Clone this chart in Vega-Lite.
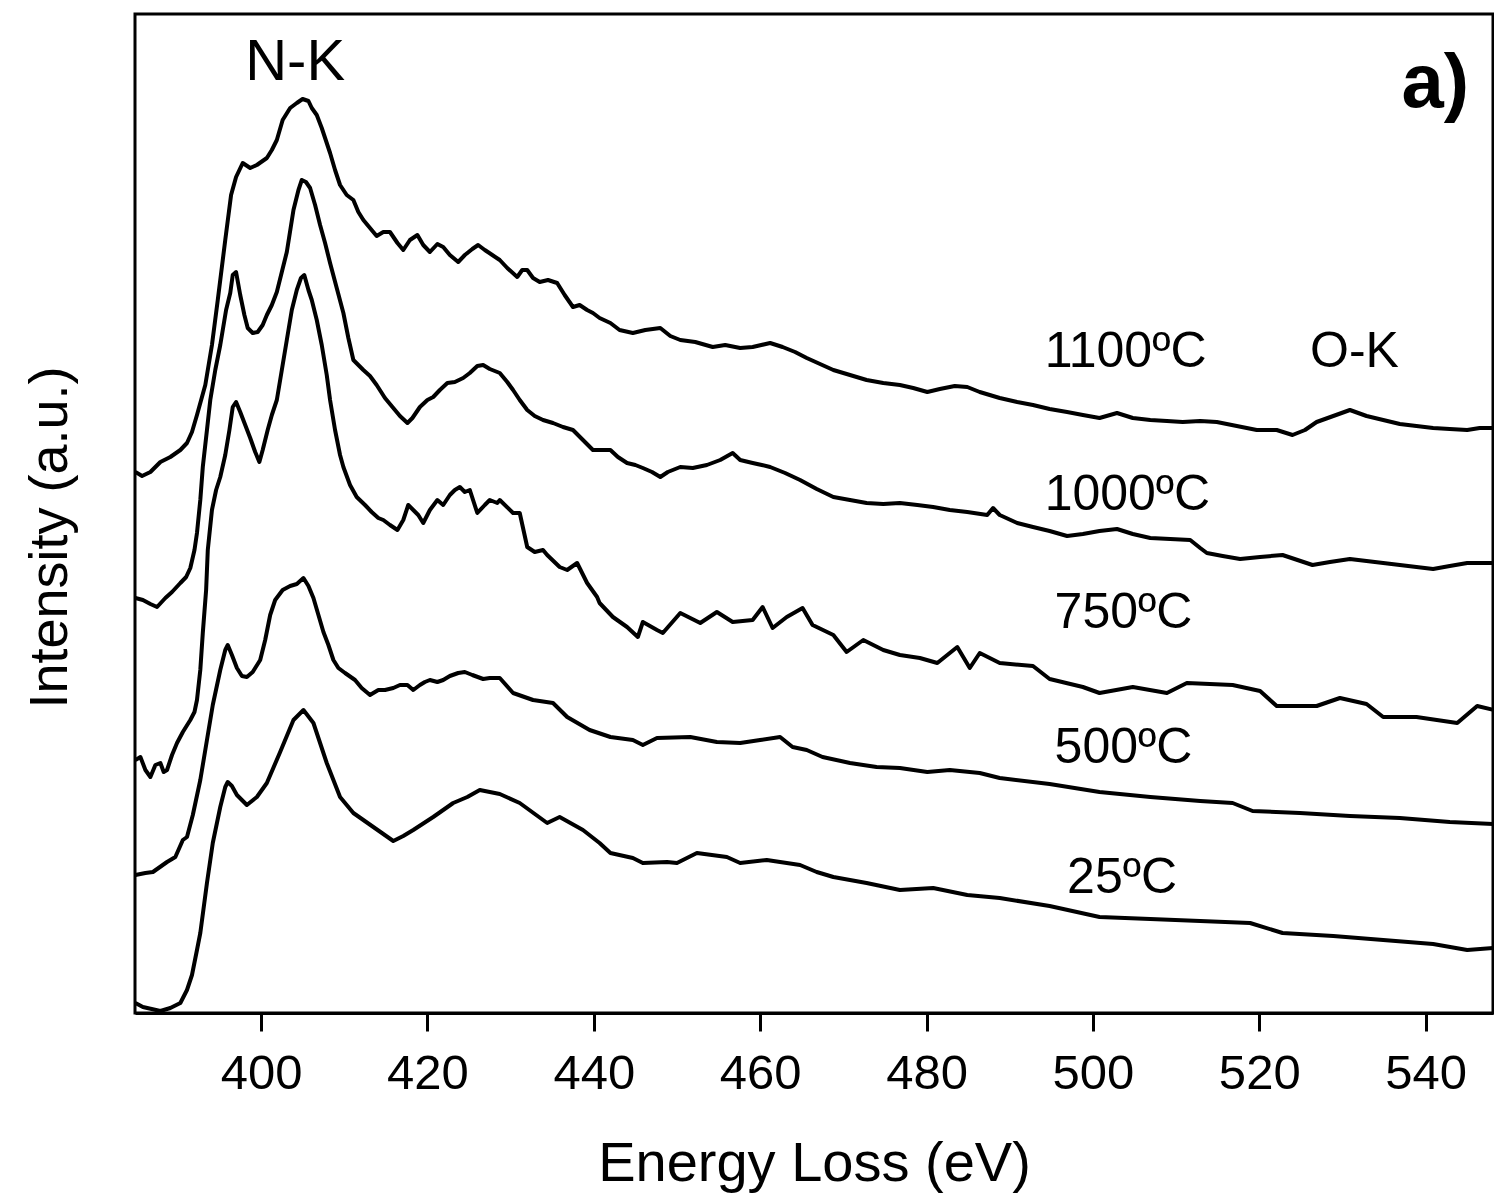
{
  "$schema": "https://vega.github.io/schema/vega-lite/v6.json",
  "width": 1358,
  "height": 999,
  "autosize": {"type": "none"},
  "padding": {"left": 135, "top": 14, "right": 1, "bottom": 181},
  "background": "white",
  "config": {
    "font": "Liberation Sans",
    "view": {"stroke": "black", "strokeWidth": 3}
  },
  "datasets": {
    "spectra": [
      {"s":"1100","E":384.9,"I":541},{"s":"1100","E":385.7,"I":537},{"s":"1100","E":386.7,"I":541},{"s":"1100","E":387.9,"I":551},{"s":"1100","E":389.1,"I":556},{"s":"1100","E":390.3,"I":563},{"s":"1100","E":391.1,"I":570},{"s":"1100","E":391.7,"I":581},{"s":"1100","E":392.3,"I":598},{"s":"1100","E":393.3,"I":628},{"s":"1100","E":394.1,"I":668},{"s":"1100","E":394.8,"I":713},{"s":"1100","E":395.7,"I":773},{"s":"1100","E":396.4,"I":818},{"s":"1100","E":397.0,"I":836},{"s":"1100","E":397.8,"I":850},{"s":"1100","E":398.7,"I":845},{"s":"1100","E":399.5,"I":848},{"s":"1100","E":400.7,"I":855},{"s":"1100","E":401.3,"I":863},{"s":"1100","E":401.9,"I":873},{"s":"1100","E":402.6,"I":893},{"s":"1100","E":403.5,"I":905},{"s":"1100","E":404.3,"I":910},{"s":"1100","E":405.0,"I":914},{"s":"1100","E":405.7,"I":912},{"s":"1100","E":406.1,"I":905},{"s":"1100","E":406.7,"I":898},{"s":"1100","E":407.3,"I":885},{"s":"1100","E":408.3,"I":860},{"s":"1100","E":408.9,"I":843},{"s":"1100","E":409.5,"I":828},{"s":"1100","E":410.3,"I":818},{"s":"1100","E":411.1,"I":813},{"s":"1100","E":411.7,"I":801},{"s":"1100","E":412.3,"I":793},{"s":"1100","E":413.1,"I":785},{"s":"1100","E":413.9,"I":777},{"s":"1100","E":414.7,"I":781},{"s":"1100","E":415.5,"I":781},{"s":"1100","E":416.4,"I":770},{"s":"1100","E":417.1,"I":763},{"s":"1100","E":417.9,"I":773},{"s":"1100","E":418.8,"I":778},{"s":"1100","E":419.5,"I":768},{"s":"1100","E":420.3,"I":761},{"s":"1100","E":421.2,"I":769},{"s":"1100","E":421.9,"I":766},{"s":"1100","E":422.7,"I":758},{"s":"1100","E":423.7,"I":751},{"s":"1100","E":424.5,"I":758},{"s":"1100","E":425.4,"I":764},{"s":"1100","E":426.1,"I":768},{"s":"1100","E":426.9,"I":763},{"s":"1100","E":427.8,"I":758},{"s":"1100","E":428.7,"I":753},{"s":"1100","E":429.6,"I":745},{"s":"1100","E":430.8,"I":736},{"s":"1100","E":431.4,"I":743},{"s":"1100","E":432.0,"I":743},{"s":"1100","E":432.7,"I":735},{"s":"1100","E":433.5,"I":731},{"s":"1100","E":434.5,"I":733},{"s":"1100","E":435.6,"I":730},{"s":"1100","E":436.5,"I":718},{"s":"1100","E":437.5,"I":706},{"s":"1100","E":438.3,"I":708},{"s":"1100","E":439.2,"I":703},{"s":"1100","E":439.9,"I":700},{"s":"1100","E":440.7,"I":695},{"s":"1100","E":442.0,"I":690},{"s":"1100","E":443.1,"I":683},{"s":"1100","E":444.7,"I":680},{"s":"1100","E":446.2,"I":683},{"s":"1100","E":448.0,"I":685},{"s":"1100","E":449.2,"I":677},{"s":"1100","E":450.4,"I":673},{"s":"1100","E":452.2,"I":671},{"s":"1100","E":454.3,"I":666},{"s":"1100","E":455.8,"I":668},{"s":"1100","E":457.6,"I":665},{"s":"1100","E":459.1,"I":666},{"s":"1100","E":461.2,"I":670},{"s":"1100","E":462.7,"I":666},{"s":"1100","E":464.2,"I":661},{"s":"1100","E":465.6,"I":655},{"s":"1100","E":467.2,"I":649},{"s":"1100","E":468.8,"I":643},{"s":"1100","E":470.8,"I":638},{"s":"1100","E":472.8,"I":633},{"s":"1100","E":474.8,"I":630},{"s":"1100","E":476.8,"I":628},{"s":"1100","E":478.4,"I":625},{"s":"1100","E":480.1,"I":621},{"s":"1100","E":481.6,"I":624},{"s":"1100","E":483.4,"I":627},{"s":"1100","E":484.9,"I":626},{"s":"1100","E":486.4,"I":621},{"s":"1100","E":488.8,"I":615},{"s":"1100","E":490.9,"I":611},{"s":"1100","E":492.8,"I":608},{"s":"1100","E":494.8,"I":604},{"s":"1100","E":496.9,"I":601},{"s":"1100","E":498.8,"I":598},{"s":"1100","E":500.8,"I":595},{"s":"1100","E":502.9,"I":600},{"s":"1100","E":504.8,"I":595},{"s":"1100","E":506.9,"I":593},{"s":"1100","E":508.9,"I":592},{"s":"1100","E":510.8,"I":591},{"s":"1100","E":512.9,"I":592},{"s":"1100","E":514.9,"I":591},{"s":"1100","E":517.3,"I":587},{"s":"1100","E":519.7,"I":583},{"s":"1100","E":522.1,"I":583},{"s":"1100","E":524.0,"I":578},{"s":"1100","E":525.5,"I":583},{"s":"1100","E":526.9,"I":591},{"s":"1100","E":528.9,"I":597},{"s":"1100","E":530.9,"I":603},{"s":"1100","E":532.9,"I":597},{"s":"1100","E":534.9,"I":593},{"s":"1100","E":536.9,"I":589},{"s":"1100","E":538.9,"I":587},{"s":"1100","E":540.9,"I":585},{"s":"1100","E":542.9,"I":584},{"s":"1100","E":545.0,"I":583},{"s":"1100","E":546.5,"I":585},{"s":"1100","E":548.2,"I":585},

      {"s":"1000","E":384.9,"I":415},{"s":"1000","E":385.8,"I":413},{"s":"1000","E":386.7,"I":409},{"s":"1000","E":387.5,"I":406},{"s":"1000","E":388.5,"I":415},{"s":"1000","E":389.3,"I":421},{"s":"1000","E":390.3,"I":430},{"s":"1000","E":391.0,"I":436},{"s":"1000","E":391.5,"I":445},{"s":"1000","E":392.0,"I":463},{"s":"1000","E":392.3,"I":480},{"s":"1000","E":392.7,"I":513},{"s":"1000","E":393.0,"I":546},{"s":"1000","E":393.5,"I":583},{"s":"1000","E":393.9,"I":613},{"s":"1000","E":394.5,"I":643},{"s":"1000","E":395.1,"I":668},{"s":"1000","E":395.8,"I":703},{"s":"1000","E":396.3,"I":720},{"s":"1000","E":396.6,"I":738},{"s":"1000","E":397.0,"I":741},{"s":"1000","E":397.5,"I":718},{"s":"1000","E":398.0,"I":698},{"s":"1000","E":398.4,"I":685},{"s":"1000","E":399.0,"I":680},{"s":"1000","E":399.6,"I":681},{"s":"1000","E":400.2,"I":688},{"s":"1000","E":400.7,"I":698},{"s":"1000","E":401.3,"I":708},{"s":"1000","E":401.9,"I":721},{"s":"1000","E":402.5,"I":741},{"s":"1000","E":403.1,"I":761},{"s":"1000","E":403.9,"I":803},{"s":"1000","E":404.5,"I":823},{"s":"1000","E":404.9,"I":833},{"s":"1000","E":405.4,"I":831},{"s":"1000","E":405.9,"I":825},{"s":"1000","E":406.5,"I":808},{"s":"1000","E":407.1,"I":788},{"s":"1000","E":407.7,"I":770},{"s":"1000","E":408.3,"I":750},{"s":"1000","E":409.1,"I":725},{"s":"1000","E":409.9,"I":700},{"s":"1000","E":410.5,"I":675},{"s":"1000","E":411.1,"I":653},{"s":"1000","E":411.7,"I":648},{"s":"1000","E":412.3,"I":643},{"s":"1000","E":413.1,"I":637},{"s":"1000","E":413.9,"I":628},{"s":"1000","E":414.9,"I":615},{"s":"1000","E":415.9,"I":605},{"s":"1000","E":416.7,"I":597},{"s":"1000","E":417.6,"I":590},{"s":"1000","E":418.2,"I":595},{"s":"1000","E":419.1,"I":606},{"s":"1000","E":420.0,"I":613},{"s":"1000","E":420.7,"I":616},{"s":"1000","E":421.5,"I":623},{"s":"1000","E":422.4,"I":630},{"s":"1000","E":423.3,"I":631},{"s":"1000","E":424.3,"I":635},{"s":"1000","E":425.1,"I":640},{"s":"1000","E":426.0,"I":647},{"s":"1000","E":426.7,"I":648},{"s":"1000","E":427.5,"I":644},{"s":"1000","E":428.7,"I":640},{"s":"1000","E":429.6,"I":631},{"s":"1000","E":430.3,"I":623},{"s":"1000","E":431.1,"I":613},{"s":"1000","E":432.0,"I":603},{"s":"1000","E":432.9,"I":597},{"s":"1000","E":433.9,"I":593},{"s":"1000","E":435.1,"I":590},{"s":"1000","E":436.3,"I":586},{"s":"1000","E":437.5,"I":583},{"s":"1000","E":438.7,"I":573},{"s":"1000","E":439.9,"I":563},{"s":"1000","E":440.7,"I":563},{"s":"1000","E":442.0,"I":563},{"s":"1000","E":442.9,"I":556},{"s":"1000","E":444.0,"I":550},{"s":"1000","E":445.0,"I":548},{"s":"1000","E":445.9,"I":545},{"s":"1000","E":447.0,"I":541},{"s":"1000","E":448.0,"I":536},{"s":"1000","E":448.9,"I":541},{"s":"1000","E":450.4,"I":546},{"s":"1000","E":451.9,"I":545},{"s":"1000","E":453.6,"I":548},{"s":"1000","E":455.2,"I":553},{"s":"1000","E":456.7,"I":560},{"s":"1000","E":457.6,"I":553},{"s":"1000","E":459.1,"I":550},{"s":"1000","E":460.2,"I":548},{"s":"1000","E":461.2,"I":546},{"s":"1000","E":463.0,"I":540},{"s":"1000","E":464.8,"I":533},{"s":"1000","E":466.8,"I":524},{"s":"1000","E":468.8,"I":516},{"s":"1000","E":470.8,"I":513},{"s":"1000","E":472.8,"I":510},{"s":"1000","E":474.8,"I":509},{"s":"1000","E":476.8,"I":510},{"s":"1000","E":478.9,"I":508},{"s":"1000","E":480.8,"I":506},{"s":"1000","E":482.8,"I":503},{"s":"1000","E":484.9,"I":501},{"s":"1000","E":487.3,"I":498},{"s":"1000","E":488.0,"I":505},{"s":"1000","E":488.8,"I":498},{"s":"1000","E":490.9,"I":490},{"s":"1000","E":492.8,"I":486},{"s":"1000","E":494.8,"I":482},{"s":"1000","E":496.9,"I":477},{"s":"1000","E":498.8,"I":479},{"s":"1000","E":500.8,"I":482},{"s":"1000","E":502.9,"I":484},{"s":"1000","E":504.8,"I":479},{"s":"1000","E":506.9,"I":475},{"s":"1000","E":509.3,"I":474},{"s":"1000","E":511.7,"I":473},{"s":"1000","E":512.9,"I":465},{"s":"1000","E":513.7,"I":460},{"s":"1000","E":515.6,"I":457},{"s":"1000","E":517.7,"I":454},{"s":"1000","E":520.1,"I":456},{"s":"1000","E":522.8,"I":458},{"s":"1000","E":524.6,"I":453},{"s":"1000","E":526.4,"I":448},{"s":"1000","E":528.5,"I":451},{"s":"1000","E":530.9,"I":454},{"s":"1000","E":532.9,"I":452},{"s":"1000","E":534.9,"I":450},{"s":"1000","E":536.9,"I":448},{"s":"1000","E":538.9,"I":446},{"s":"1000","E":540.9,"I":444},{"s":"1000","E":542.9,"I":447},{"s":"1000","E":545.0,"I":450},{"s":"1000","E":546.5,"I":450},{"s":"1000","E":548.2,"I":450},

      {"s":"750","E":384.9,"I":253},{"s":"750","E":385.5,"I":256},{"s":"750","E":386.1,"I":243},{"s":"750","E":386.7,"I":236},{"s":"750","E":387.3,"I":248},{"s":"750","E":387.9,"I":250},{"s":"750","E":388.3,"I":241},{"s":"750","E":388.7,"I":243},{"s":"750","E":389.3,"I":258},{"s":"750","E":389.9,"I":270},{"s":"750","E":390.6,"I":281},{"s":"750","E":391.5,"I":293},{"s":"750","E":392.0,"I":301},{"s":"750","E":392.3,"I":313},{"s":"750","E":392.7,"I":343},{"s":"750","E":393.0,"I":380},{"s":"750","E":393.4,"I":423},{"s":"750","E":393.6,"I":463},{"s":"750","E":394.1,"I":503},{"s":"750","E":394.6,"I":523},{"s":"750","E":395.1,"I":536},{"s":"750","E":395.7,"I":558},{"s":"750","E":396.2,"I":583},{"s":"750","E":396.6,"I":606},{"s":"750","E":397.0,"I":611},{"s":"750","E":397.5,"I":601},{"s":"750","E":398.1,"I":588},{"s":"750","E":398.7,"I":575},{"s":"750","E":399.3,"I":561},{"s":"750","E":399.8,"I":551},{"s":"750","E":400.2,"I":563},{"s":"750","E":400.8,"I":583},{"s":"750","E":401.3,"I":598},{"s":"750","E":401.9,"I":613},{"s":"750","E":402.5,"I":643},{"s":"750","E":403.1,"I":673},{"s":"750","E":403.7,"I":703},{"s":"750","E":404.3,"I":723},{"s":"750","E":404.8,"I":735},{"s":"750","E":405.2,"I":738},{"s":"750","E":405.7,"I":723},{"s":"750","E":406.1,"I":713},{"s":"750","E":406.7,"I":693},{"s":"750","E":407.3,"I":668},{"s":"750","E":407.9,"I":638},{"s":"750","E":408.3,"I":613},{"s":"750","E":408.9,"I":583},{"s":"750","E":409.5,"I":558},{"s":"750","E":409.9,"I":546},{"s":"750","E":410.7,"I":528},{"s":"750","E":411.5,"I":516},{"s":"750","E":412.5,"I":508},{"s":"750","E":413.3,"I":501},{"s":"750","E":414.1,"I":495},{"s":"750","E":414.7,"I":493},{"s":"750","E":415.5,"I":488},{"s":"750","E":416.4,"I":483},{"s":"750","E":417.1,"I":493},{"s":"750","E":417.7,"I":508},{"s":"750","E":418.3,"I":503},{"s":"750","E":418.9,"I":498},{"s":"750","E":419.5,"I":490},{"s":"750","E":420.3,"I":503},{"s":"750","E":421.2,"I":513},{"s":"750","E":421.9,"I":508},{"s":"750","E":422.7,"I":518},{"s":"750","E":423.3,"I":523},{"s":"750","E":423.9,"I":526},{"s":"750","E":424.5,"I":521},{"s":"750","E":425.1,"I":523},{"s":"750","E":426.0,"I":500},{"s":"750","E":426.9,"I":508},{"s":"750","E":427.5,"I":513},{"s":"750","E":428.4,"I":510},{"s":"750","E":428.7,"I":513},{"s":"750","E":430.3,"I":500},{"s":"750","E":431.1,"I":500},{"s":"750","E":432.0,"I":466},{"s":"750","E":432.9,"I":461},{"s":"750","E":433.9,"I":463},{"s":"750","E":434.4,"I":458},{"s":"750","E":435.9,"I":446},{"s":"750","E":436.8,"I":443},{"s":"750","E":438.0,"I":450},{"s":"750","E":439.2,"I":430},{"s":"750","E":440.4,"I":416},{"s":"750","E":440.7,"I":410},{"s":"750","E":442.3,"I":396},{"s":"750","E":444.0,"I":386},{"s":"750","E":445.3,"I":376},{"s":"750","E":445.9,"I":391},{"s":"750","E":447.6,"I":383},{"s":"750","E":448.3,"I":380},{"s":"750","E":450.4,"I":400},{"s":"750","E":452.8,"I":390},{"s":"750","E":454.8,"I":401},{"s":"750","E":456.7,"I":391},{"s":"750","E":459.1,"I":393},{"s":"750","E":460.3,"I":406},{"s":"750","E":461.5,"I":385},{"s":"750","E":463.2,"I":396},{"s":"750","E":465.1,"I":405},{"s":"750","E":466.3,"I":388},{"s":"750","E":468.8,"I":378},{"s":"750","E":470.4,"I":361},{"s":"750","E":472.4,"I":373},{"s":"750","E":474.8,"I":363},{"s":"750","E":476.8,"I":358},{"s":"750","E":479.2,"I":355},{"s":"750","E":481.3,"I":350},{"s":"750","E":483.7,"I":366},{"s":"750","E":485.2,"I":345},{"s":"750","E":486.4,"I":360},{"s":"750","E":488.8,"I":350},{"s":"750","E":492.8,"I":347},{"s":"750","E":494.8,"I":334},{"s":"750","E":498.8,"I":326},{"s":"750","E":500.8,"I":320},{"s":"750","E":504.8,"I":326},{"s":"750","E":508.9,"I":320},{"s":"750","E":511.3,"I":330},{"s":"750","E":516.8,"I":328},{"s":"750","E":520.1,"I":322},{"s":"750","E":522.1,"I":307},{"s":"750","E":526.9,"I":307},{"s":"750","E":529.7,"I":315},{"s":"750","E":532.9,"I":309},{"s":"750","E":534.9,"I":296},{"s":"750","E":538.9,"I":296},{"s":"750","E":543.8,"I":290},{"s":"750","E":546.2,"I":307},{"s":"750","E":548.2,"I":303},

      {"s":"500","E":384.9,"I":138},{"s":"500","E":386.1,"I":140},{"s":"500","E":387.0,"I":141},{"s":"500","E":388.7,"I":151},{"s":"500","E":389.7,"I":156},{"s":"500","E":390.6,"I":173},{"s":"500","E":391.1,"I":176},{"s":"500","E":391.8,"I":198},{"s":"500","E":392.7,"I":233},{"s":"500","E":393.5,"I":273},{"s":"500","E":394.2,"I":308},{"s":"500","E":395.1,"I":343},{"s":"500","E":395.7,"I":363},{"s":"500","E":396.0,"I":368},{"s":"500","E":396.5,"I":358},{"s":"500","E":397.1,"I":345},{"s":"500","E":397.7,"I":337},{"s":"500","E":398.3,"I":336},{"s":"500","E":399.0,"I":341},{"s":"500","E":399.9,"I":353},{"s":"500","E":400.5,"I":373},{"s":"500","E":401.1,"I":398},{"s":"500","E":401.7,"I":413},{"s":"500","E":402.6,"I":423},{"s":"500","E":403.5,"I":427},{"s":"500","E":404.3,"I":429},{"s":"500","E":405.1,"I":435},{"s":"500","E":405.7,"I":427},{"s":"500","E":406.3,"I":415},{"s":"500","E":406.9,"I":398},{"s":"500","E":407.5,"I":381},{"s":"500","E":408.1,"I":368},{"s":"500","E":408.7,"I":353},{"s":"500","E":409.3,"I":345},{"s":"500","E":410.1,"I":340},{"s":"500","E":411.3,"I":333},{"s":"500","E":412.1,"I":325},{"s":"500","E":413.1,"I":318},{"s":"500","E":414.1,"I":323},{"s":"500","E":414.9,"I":323},{"s":"500","E":415.9,"I":325},{"s":"500","E":416.7,"I":328},{"s":"500","E":417.6,"I":328},{"s":"500","E":418.3,"I":323},{"s":"500","E":419.1,"I":328},{"s":"500","E":419.7,"I":331},{"s":"500","E":420.3,"I":333},{"s":"500","E":421.2,"I":331},{"s":"500","E":421.9,"I":333},{"s":"500","E":422.7,"I":337},{"s":"500","E":423.7,"I":340},{"s":"500","E":424.5,"I":341},{"s":"500","E":425.4,"I":338},{"s":"500","E":426.7,"I":334},{"s":"500","E":427.5,"I":335},{"s":"500","E":428.7,"I":335},{"s":"500","E":430.3,"I":320},{"s":"500","E":432.7,"I":313},{"s":"500","E":435.1,"I":310},{"s":"500","E":436.8,"I":296},{"s":"500","E":439.5,"I":283},{"s":"500","E":442.0,"I":276},{"s":"500","E":444.7,"I":273},{"s":"500","E":445.9,"I":268},{"s":"500","E":447.6,"I":275},{"s":"500","E":451.6,"I":276},{"s":"500","E":454.8,"I":271},{"s":"500","E":457.6,"I":270},{"s":"500","E":460.0,"I":273},{"s":"500","E":462.4,"I":276},{"s":"500","E":463.9,"I":266},{"s":"500","E":465.6,"I":263},{"s":"500","E":467.5,"I":256},{"s":"500","E":470.8,"I":250},{"s":"500","E":474.0,"I":246},{"s":"500","E":476.8,"I":245},{"s":"500","E":480.1,"I":241},{"s":"500","E":482.8,"I":243},{"s":"500","E":486.4,"I":240},{"s":"500","E":488.8,"I":235},{"s":"500","E":494.8,"I":229},{"s":"500","E":500.8,"I":221},{"s":"500","E":506.9,"I":216},{"s":"500","E":512.9,"I":212},{"s":"500","E":516.8,"I":210},{"s":"500","E":519.2,"I":202},{"s":"500","E":524.9,"I":200},{"s":"500","E":530.9,"I":197},{"s":"500","E":536.9,"I":195},{"s":"500","E":542.9,"I":191},{"s":"500","E":548.2,"I":189},

      {"s":"25","E":384.9,"I":10},{"s":"25","E":385.8,"I":6},{"s":"25","E":387.9,"I":2},{"s":"25","E":389.1,"I":5},{"s":"25","E":390.3,"I":10},{"s":"25","E":391.1,"I":23},{"s":"25","E":391.7,"I":38},{"s":"25","E":392.3,"I":63},{"s":"25","E":392.7,"I":80},{"s":"25","E":393.5,"I":130},{"s":"25","E":394.2,"I":170},{"s":"25","E":395.1,"I":206},{"s":"25","E":395.7,"I":226},{"s":"25","E":396.0,"I":231},{"s":"25","E":396.5,"I":227},{"s":"25","E":397.1,"I":218},{"s":"25","E":398.3,"I":208},{"s":"25","E":399.5,"I":216},{"s":"25","E":400.7,"I":230},{"s":"25","E":402.3,"I":261},{"s":"25","E":403.9,"I":293},{"s":"25","E":405.1,"I":303},{"s":"25","E":406.3,"I":290},{"s":"25","E":407.9,"I":250},{"s":"25","E":409.5,"I":216},{"s":"25","E":411.1,"I":200},{"s":"25","E":413.5,"I":186},{"s":"25","E":415.9,"I":172},{"s":"25","E":417.1,"I":177},{"s":"25","E":418.3,"I":183},{"s":"25","E":420.7,"I":196},{"s":"25","E":423.1,"I":210},{"s":"25","E":424.8,"I":216},{"s":"25","E":426.3,"I":223},{"s":"25","E":427.5,"I":221},{"s":"25","E":428.7,"I":219},{"s":"25","E":431.1,"I":210},{"s":"25","E":434.4,"I":190},{"s":"25","E":435.9,"I":196},{"s":"25","E":438.7,"I":183},{"s":"25","E":440.7,"I":170},{"s":"25","E":442.0,"I":160},{"s":"25","E":444.7,"I":155},{"s":"25","E":445.9,"I":150},{"s":"25","E":448.8,"I":151},{"s":"25","E":450.0,"I":150},{"s":"25","E":452.4,"I":160},{"s":"25","E":456.0,"I":156},{"s":"25","E":457.6,"I":150},{"s":"25","E":460.8,"I":153},{"s":"25","E":464.8,"I":148},{"s":"25","E":466.8,"I":141},{"s":"25","E":468.8,"I":136},{"s":"25","E":472.8,"I":130},{"s":"25","E":476.8,"I":123},{"s":"25","E":480.8,"I":125},{"s":"25","E":484.9,"I":118},{"s":"25","E":488.8,"I":115},{"s":"25","E":494.8,"I":107},{"s":"25","E":500.8,"I":96},{"s":"25","E":506.9,"I":94},{"s":"25","E":512.9,"I":92},{"s":"25","E":518.9,"I":90},{"s":"25","E":522.8,"I":80},{"s":"25","E":528.9,"I":77},{"s":"25","E":534.9,"I":73},{"s":"25","E":540.9,"I":69},{"s":"25","E":545.0,"I":63},{"s":"25","E":548.2,"I":65}
    ],
    "labels": [
      {"t":"1100ºC","E":494.2,"I":646},
      {"t":"O-K","E":526.1,"I":646},
      {"t":"1000ºC","E":494.2,"I":503},
      {"t":"750ºC","E":495.4,"I":385},
      {"t":"500ºC","E":495.4,"I":250},
      {"t":"25ºC","E":496.9,"I":120}
    ],
    "edge": [
      {"t":"N-K","E":398.1,"I":933}
    ],
    "panel": [
      {"t":"a)","E":537.1,"I":906}
    ]
  },
  "encoding": {
    "x": {
      "field": "E", "type": "quantitative",
      "scale": {"domain": [384.85, 548.1], "nice": false, "zero": false},
      "axis": {
        "title": "Energy Loss (eV)",
        "values": [400, 420, 440, 460, 480, 500, 520, 540],
        "grid": false,
        "domainColor": "black", "domainWidth": 3,
        "tickColor": "black", "tickWidth": 3, "tickSize": 18,
        "labelFontSize": 49, "labelColor": "black", "labelPadding": 18, "labelFont": "Liberation Sans",
        "labelFlush": false,
        "titleFontSize": 56, "titleFontWeight": "normal", "titleColor": "black", "titleFont": "Liberation Sans",
        "titleBaseline": "alphabetic", "titleY": 167
      }
    },
    "y": {
      "field": "I", "type": "quantitative",
      "scale": {"domain": [0, 999], "nice": false, "zero": false},
      "axis": {
        "title": "Intensity (a.u.)",
        "grid": false, "ticks": false, "labels": false, "domain": false,
        "titleFontSize": 54, "titleFontWeight": "normal", "titleColor": "black", "titleFont": "Liberation Sans",
        "titleBaseline": "alphabetic", "titleAlign": "center", "titleX": -69, "titleY": 523
      }
    }
  },
  "layer": [
    {
      "data": {"name": "spectra"},
      "mark": {"type": "line", "color": "black", "strokeWidth": 4, "clip": true, "strokeJoin": "round"},
      "encoding": {"detail": {"field": "s", "type": "nominal"}}
    },
    {
      "data": {"name": "labels"},
      "mark": {"type": "text", "align": "left", "baseline": "alphabetic", "fontSize": 50, "font": "Liberation Sans", "color": "black"},
      "encoding": {"text": {"field": "t"}}
    },
    {
      "data": {"name": "edge"},
      "mark": {"type": "text", "align": "left", "baseline": "alphabetic", "fontSize": 58, "font": "Liberation Sans", "color": "black"},
      "encoding": {"text": {"field": "t"}}
    },
    {
      "data": {"name": "panel"},
      "mark": {"type": "text", "align": "left", "baseline": "alphabetic", "fontSize": 76, "fontWeight": "bold", "font": "Liberation Sans", "color": "black"},
      "encoding": {"text": {"field": "t"}}
    }
  ]
}
